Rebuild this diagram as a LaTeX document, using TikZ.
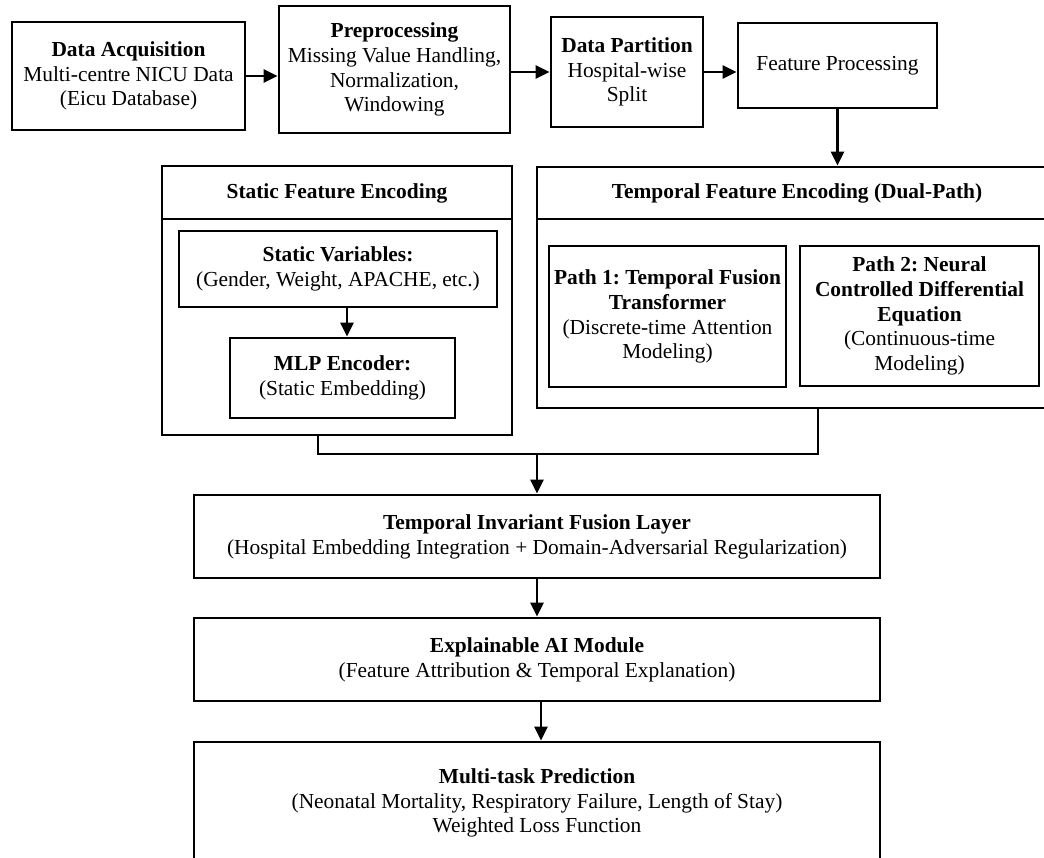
\documentclass[tikz,border=0pt]{standalone}
\usepackage{fontspec}
\setmainfont{Liberation Serif}
\frenchspacing
\usetikzlibrary{arrows.meta,calc}
\begin{document}
\begin{tikzpicture}[x=1pt,y=-1pt,
  box/.style={draw=black,line width=2.8pt,rectangle,align=center,inner sep=0pt,
    font=\fontsize{21.4}{24.8}\selectfont},
  grp/.style={draw=black,line width=2.8pt,rectangle,inner sep=0pt},
  lbl/.style={align=center,inner sep=0pt,font=\fontsize{21.4}{24.8}\selectfont},
  link/.style={draw=black,line width=2.8pt},
  arr/.style={link,-{Triangle[length=14pt,width=13pt]}}]
\useasboundingbox (0,0) rectangle (1044,858);
\clip (0,0) rectangle (1044,858);
% top row
\node[box,minimum width=233pt,minimum height=108pt] (acq) at (128.5,76)
  {\textbf{Data Acquisition}\\Multi-centre NICU Data\\(Eicu Database)};
\node[box,minimum width=231pt,minimum height=127pt] (pre) at (394.5,69.5)
  {\textbf{Preprocessing}\\Missing Value Handling,\\Normalization,\\Windowing};
\node[box,minimum width=152pt,minimum height=110pt] (part) at (627,72)
  {\textbf{Data Partition}\\Hospital-wise\\Split};
\node[box,minimum width=199pt,minimum height=85pt] (fp) at (837.5,65.5)
  {Feature Processing};
\draw[arr] (acq.east) -- (acq.east -| pre.west);
\draw[arr] (pre.east |- part.west) -- (part.west);
\draw[arr] (part.east) -- (part.east -| fp.west);
% static group
\node[grp,minimum width=350pt,minimum height=269pt] (static) at (337,300.5) {};
\draw[link] (162,219) -- (512,219);
\node[lbl] (stath) at (337,193) {\textbf{Static Feature Encoding}};
\node[box,minimum width=318pt,minimum height=76pt] (sv) at (338,269)
  {\textbf{Static Variables:}\\(Gender, Weight, APACHE, etc.)};
\node[box,minimum width=225pt,minimum height=80pt] (mlp) at (342.5,378)
  {\textbf{MLP Encoder:}\\(Static Embedding)};
\draw[arr] ([xshift=9pt]sv.south) -- ([xshift=4.5pt]mlp.north);
% temporal group
\node[grp,minimum width=520pt,minimum height=241pt] (temp) at (797,287.5) {};
\draw[link] (537,219) -- (1057,219);
\node[lbl] (temph) at (797,193) {\textbf{Temporal Feature Encoding (Dual-Path)}};
\node[box,minimum width=237pt,minimum height=141pt] (p1) at (667.5,316.5)
  {\textbf{Path 1: Temporal Fusion}\\\textbf{Transformer}\\(Discrete-time Attention\\Modeling)};
\node[box,minimum width=239pt,minimum height=140pt] (p2) at (919.5,316)
  {\textbf{Path 2: Neural}\\\textbf{Controlled Differential}\\\textbf{Equation}\\(Continuous-time\\Modeling)};
\draw[arr] (fp.south) -- (fp.south |- temp.north);
% merge
\coordinate (merge) at (537,454);
\draw[link] (static.south -| 318,0) -- (318,454) -- (818,454) -- (temp.south -| 818,0);
% bottom
\node[box,minimum width=686pt,minimum height=83pt] (fus) at (537,536.5)
  {\textbf{Temporal Invariant Fusion Layer}\\(Hospital Embedding Integration + Domain-Adversarial Regularization)};
\node[box,minimum width=686pt,minimum height=83pt] (xai) at (537,659.5)
  {\textbf{Explainable AI Module}\\(Feature Attribution \& Temporal Explanation)};
\node[box,minimum width=686pt,minimum height=122pt] (mt) at (537,803)
  {\textbf{Multi-task Prediction}\\(Neonatal Mortality, Respiratory Failure, Length of Stay)\\Weighted Loss Function};
\draw[arr] (merge) -- (fus.north);
\draw[arr] (fus.south) -- (xai.north);
\draw[arr] ([xshift=4pt]xai.south) -- ([xshift=4pt]mt.north);
\end{tikzpicture}
\end{document}
